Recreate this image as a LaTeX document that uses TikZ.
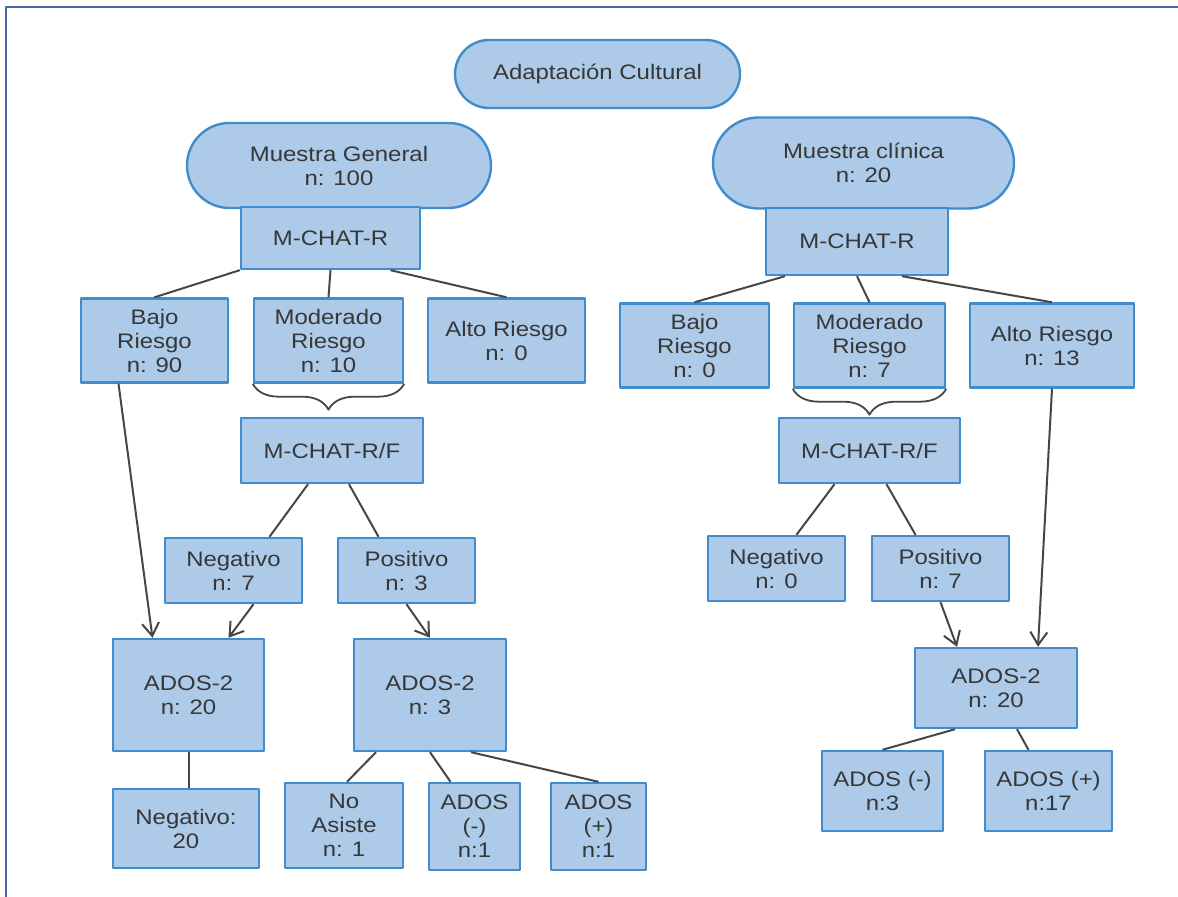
\documentclass[tikz,border=0pt]{standalone}
\usepackage{fontspec}
\setmainfont{Liberation Sans}[FakeStretch=1.14]
\usetikzlibrary{arrows.meta,calc,shapes.misc,decorations.pathreplacing}
\definecolor{boxfill}{RGB}{173,202,232}
\definecolor{boxline}{RGB}{64,140,205}
\definecolor{ink}{RGB}{55,55,55}
\definecolor{wire}{RGB}{70,70,70}
\definecolor{framec}{RGB}{68,106,170}

\begin{document}
\begin{tikzpicture}[
  x=0.5pt, y=-0.5pt,
  line join=round,
  box/.style={draw=boxline, fill=boxfill, line width=1.2pt, text=ink,
    align=center, inner sep=0pt, font=\fontsize{10.5}{12}\selectfont},
  pill/.style={box, rounded rectangle},
  sz/.style 2 args={minimum width=#1*0.5pt, minimum height=#2*0.5pt},
  link/.style={draw=wire, line width=1pt},
  flow/.style={link, -{Straight Barb[length=6.5pt,width=8.5pt]}},
  brace/.style={draw=wire, line width=0.9pt, decorate,
    decoration={brace, mirror, amplitude=13pt}},
]
\useasboundingbox (0,0) rectangle (1178,897);

% ── the page frame ────────────────────────────────────────────────────────
\draw[framec, line width=1.2pt] (6,897) -- (6,7) -- (1178,7);

% ── title and the two samples ─────────────────────────────────────────────
\node[pill, sz={285}{68}] (adapt) at (597.5,74) {Adaptación Cultural};
\node[pill, sz={304}{85}] (mgen) at (339,165.5) {Muestra General\\n: 100};
\node[pill, sz={301}{91}] (mclin) at (863.5,163) {Muestra clínica\\n: 20};

% ── the screening boxes ───────────────────────────────────────────────────
\foreach \n/\x/\y/\w/\h/\t in {%
  mchatL/330.5/238/179/62/{M-CHAT-R},
  mchatR/857/241.5/182/67/{M-CHAT-R},
  mcfL/332/450.5/182/65/{M-CHAT-R/F},
  mcfR/869.5/450.5/181/65/{M-CHAT-R/F}%
} { \node[box, sz={\w}{\h}] (\n) at (\x,\y) {\t}; }

% ── risk levels ───────────────────────────────────────────────────────────
\foreach \n/\x/\y/\w/\t in {%
  bajoL/154.5/340.5/147/{Bajo\\Riesgo\\n: 90},
  modL/328.5/340.5/149/{Moderado\\Riesgo\\n: 10},
  altoL/506.5/340.5/157/{Alto Riesgo\\n: 0},
  bajoR/694.5/345.5/149/{Bajo\\Riesgo\\n: 0},
  modR/869.5/345.5/151/{Moderado\\Riesgo\\n: 7},
  altoR/1052/345.5/164/{Alto Riesgo\\n: 13}%
} { \node[box, sz={\w}{84}] (\n) at (\x,\y) {\t}; }

% ── follow-up results ─────────────────────────────────────────────────────
\foreach \n/\x/\y/\t in {%
  negL/233.5/570.5/{Negativo\\n: 7},
  posL/406.5/570.5/{Positivo\\n: 3},
  negR/776.5/568.5/{Negativo\\n: 0},
  posR/940.5/568.5/{Positivo\\n: 7}%
} { \node[box, sz={137}{65}] (\n) at (\x,\y) {\t}; }

% ── ADOS-2 and its outcomes ───────────────────────────────────────────────
\foreach \n/\x/\y/\w/\h/\t in {%
  adosL/188.5/695/151/112/{ADOS-2\\n: 20},
  adosM/430/695/152/112/{ADOS-2\\n: 3},
  adosR/996/688/162/80/{ADOS-2\\n: 20},
  neg20/186/828.5/146/79/{Negativo:\\20},
  noas/344/825.5/118/85/{No\\Asiste\\n: 1},
  adosmL/474.5/826.5/91/87/{ADOS\\(-)\\n:1},
  adospL/598.5/826.5/95/87/{ADOS\\(+)\\n:1},
  adosmR/882.5/791/121/80/{ADOS (-)\\n:3},
  adospR/1048.5/791/127/80/{ADOS (+)\\n:17}%
} { \node[box, sz={\w}{\h}] (\n) at (\x,\y) {\t}; }

% ── braces under the moderate-risk boxes ──────────────────────────────────
\draw[brace] (modL.south west) -- (modL.south east);
\draw[brace] (modR.south west) -- (modR.south east);

% ── connectors, general sample ────────────────────────────────────────────
\draw[link] (mchatL.south west) -- (bajoL.north);
\draw[link] (mchatL.south) -- (modL.north);
\draw[link] ($(mchatL.south)+(60,0)$) -- (altoL.north);
\draw[link] ($(mcfL.south)+(-24,0)$) -- ($(negL.north)+(36,0)$);
\draw[link] ($(mcfL.south)+(17,0)$) -- ($(posL.north)+(-28,0)$);
\draw[flow] ($(bajoL.south)+(-36,0)$) -- ($(adosL.north)+(-36,0)$);
\draw[flow] ($(negL.south)+(20,0)$) -- ($(adosL.north)+(40,0)$);
\draw[flow] (posL.south) -- (adosM.north);
\draw[link] (adosL.south) -- (adosL.south |- neg20.north);
\draw[link] ($(adosM.south)+(-54,0)$) -- ($(noas.north)+(3,0)$);
\draw[link] (adosM.south) -- ($(adosmL.north)+(-24,0)$);
\draw[link] ($(adosM.south)+(41,0)$) -- (adospL.north);

% ── connectors, clinical sample ───────────────────────────────────────────
\draw[link] ($(mchatR.south)+(-72,0)$) -- (bajoR.north);
\draw[link] (mchatR.south) -- (modR.north);
\draw[link] ($(mchatR.south)+(45,0)$) -- (altoR.north);
\draw[link] ($(mcfR.south)+(-35,0)$) -- ($(negR.north)+(20,0)$);
\draw[link] ($(mcfR.south)+(17,0)$) -- ($(posR.north)+(-25,0)$);
\draw[flow] (posR.south) -- ($(adosR.north)+(-39,0)$);
\draw[flow] (altoR.south) -- ($(adosR.north)+(42,0)$);
\draw[link] ($(adosR.south)+(-41,0)$) -- (adosmR.north);
\draw[link] ($(adosR.south)+(21,0)$) -- ($(adospR.north)+(-20,0)$);

\end{tikzpicture}
\end{document}
